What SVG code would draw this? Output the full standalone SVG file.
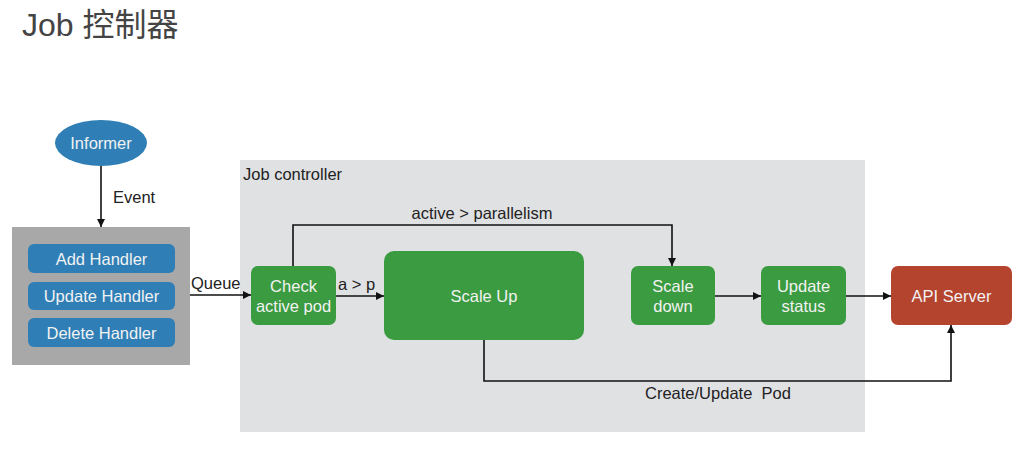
<svg xmlns="http://www.w3.org/2000/svg" width="1017" height="449" viewBox="0 0 1017 449">
<defs>
<marker id="arr" viewBox="0 0 10 10" refX="10" refY="5" markerWidth="8" markerHeight="8" markerUnits="userSpaceOnUse" orient="auto">
<path d="M0,0 L10,5 L0,10 z" fill="#111"/>
</marker>
</defs>
<style>
text{font-family:"Liberation Sans",Arial,"Noto Sans CJK SC",sans-serif;}
.lbl{font-size:16.5px;fill:#222;}
.wt{font-size:16.5px;fill:#f2f2f2;text-anchor:middle;}
.blue{fill:#2f7fb6;}
.green{fill:#3a9b40;}
.conn{fill:none;stroke:#111;stroke-width:1.6;marker-end:url(#arr);}
</style>
<rect width="1017" height="449" fill="#ffffff"/>
<text x="22" y="36" style="font-size:32px;fill:#444;font-family:'Liberation Sans','Noto Sans CJK SC',sans-serif">Job 控制器</text>

<g id="job-controller">
<rect x="240" y="160" width="625" height="272" fill="#e0e1e3"/>
<text x="243" y="180" class="lbl">Job controller</text>
</g>

<g id="informer">
<ellipse cx="101" cy="143" rx="46" ry="23" class="blue"/>
<text x="101" y="149" class="wt">Informer</text>
</g>

<g id="handlers">
<rect x="12" y="227" width="178" height="138" fill="#a8a8a8"/>
<g id="add-handler"><rect x="28" y="244" width="147" height="29" rx="6" class="blue"/><text x="101.5" y="264.5" class="wt">Add Handler</text></g>
<g id="update-handler"><rect x="28" y="282" width="147" height="28" rx="6" class="blue"/><text x="101.5" y="302" class="wt">Update Handler</text></g>
<g id="delete-handler"><rect x="28" y="318" width="147" height="29" rx="6" class="blue"/><text x="101.5" y="338.5" class="wt">Delete Handler</text></g>
</g>

<g id="check-active-pod">
<rect x="251" y="266" width="85" height="59" rx="7" class="green"/>
<text x="293.5" y="292" class="wt">Check</text>
<text x="293.5" y="312" class="wt">active pod</text>
</g>

<g id="scale-up">
<rect x="384" y="251" width="200" height="89" rx="10" class="green"/>
<text x="484" y="302" class="wt">Scale Up</text>
</g>

<g id="scale-down">
<rect x="631" y="266" width="84" height="59" rx="7" class="green"/>
<text x="673" y="292" class="wt">Scale</text>
<text x="673" y="312" class="wt">down</text>
</g>

<g id="update-status">
<rect x="761" y="266" width="85" height="59" rx="7" class="green"/>
<text x="803.5" y="292" class="wt">Update</text>
<text x="803.5" y="312" class="wt">status</text>
</g>

<g id="api-server">
<rect x="891" y="266" width="121" height="59" rx="7" fill="#b5442f"/>
<text x="951.5" y="302" class="wt">API Server</text>
</g>

<g id="connectors">
<line x1="101" y1="166" x2="101" y2="227" class="conn"/>
<text x="113" y="203" class="lbl">Event</text>
<line x1="190" y1="295" x2="251" y2="295" class="conn"/>
<text x="191" y="289" class="lbl">Queue</text>
<line x1="336" y1="296" x2="384" y2="296" class="conn"/>
<text x="338" y="290" class="lbl">a &gt; p</text>
<polyline points="293,266 293,225 672,225 672,266" class="conn"/>
<text x="482" y="219" class="lbl" text-anchor="middle">active &gt; parallelism</text>
<line x1="715" y1="296" x2="761" y2="296" class="conn"/>
<line x1="846" y1="296" x2="891" y2="296" class="conn"/>
<polyline points="484,340 484,381 951,381 951,325" class="conn"/>
<text x="645" y="399" class="lbl">Create/Update&#160; Pod</text>
</g>
</svg>
